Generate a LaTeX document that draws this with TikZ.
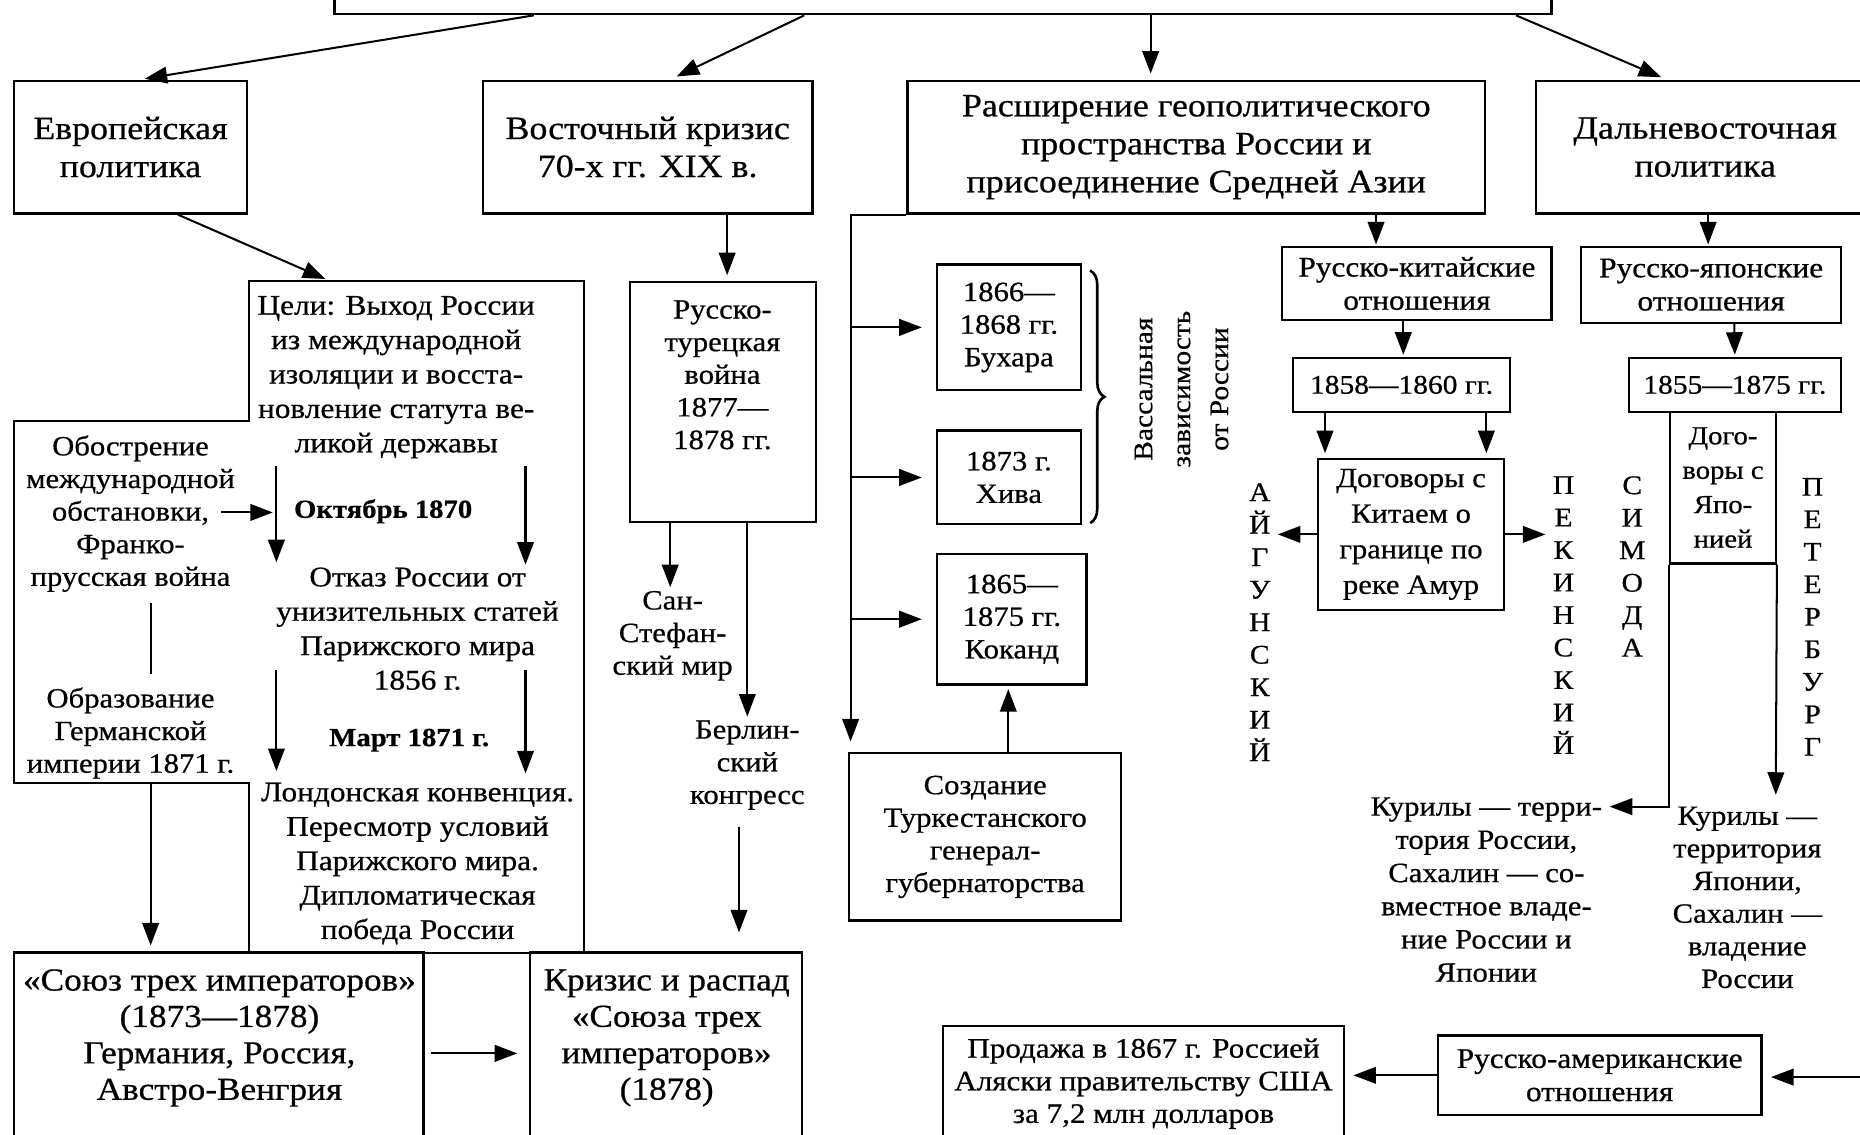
\documentclass[tikz,border=0pt]{standalone}
\usepackage{fontspec}
\setmainfont[FakeStretch=1.1,FakeBold=0.6]{Liberation Serif}
\usetikzlibrary{arrows.meta,decorations.pathreplacing}
\begin{document}
\begin{tikzpicture}[x=1pt,y=-1pt,
  box/.style={draw,line width=1.9pt,inner sep=0pt},
  arr/.style={line width=1.7pt,-{Triangle[length=19pt,width=14pt]}},
  ln/.style={line width=1.7pt},
  big/.style={font=\fontsize{27.5}{32}\selectfont,align=center,inner sep=0pt},
  med/.style={font=\fontsize{24}{29}\selectfont,align=center,inner sep=0pt},
  bmed/.style={font=\bfseries\fontsize{22}{29}\selectfont,align=center,inner sep=0pt},
  sml/.style={font=\fontsize{23.5}{27.5}\selectfont,align=center,inner sep=0pt},
  vlet/.style={font=\fontsize{22.7}{27.4}\selectfont,align=center,inner sep=0pt},
]
\useasboundingbox (0,0) rectangle (1568,956);
\fill[white] (0,0) rectangle (1568,956);

% top
\node[box,minimum width=1026pt,minimum height=60pt] (top) at (795,-18) {};

% row 1
\node[box,big,minimum width=196pt,minimum height=112pt] (eur) at (110,124) {Европейская\\политика\vphantom{Ё}};
\node[box,big,minimum width=278pt,minimum height=112pt] (vk) at (546,124) {Восточный кризис\\70-х гг. XIX в.};
\node[box,big,minimum width=487pt,minimum height=112pt] (ras) at (1008.5,124) {Расширение геополитического\\пространства России и\\присоединение Средней Азии};
\node[box,big,minimum width=285pt,minimum height=112pt] (dv) at (1437.5,124) {Дальневосточная\\политика\vphantom{Ё}};

\draw[arr,shorten >=4pt] ([xshift=-345pt]top.south) -- ([xshift=8pt]eur.north);
\draw[arr,shorten >=6pt] ([xshift=-117pt]top.south) -- ([xshift=19pt]vk.north);
\draw[arr,shorten >=5pt] ([xshift=175pt]top.south) -- ([xshift=-38.5pt]ras.north);
\draw[arr,shorten >=5pt] ([xshift=483pt]top.south) -- ([xshift=-32.5pt]dv.north);

% European policy
\node[minimum width=282pt,minimum height=566pt,inner sep=0pt] (celi) at (351,520) {};
\node[minimum width=198pt,minimum height=305pt,inner sep=0pt] (obo) at (111,507.5) {};
\draw[line width=1.9pt] (celi.north west) -- (celi.north east) -- (celi.south east) -- (celi.south west) -- (celi.south west |- obo.south) -- (obo.south west) -- (obo.north west) -- (celi.west |- obo.north) -- cycle;
\draw[arr,shorten >=4pt] ([xshift=40pt]eur.south) -- ([xshift=-73pt]celi.north);

\node[med] (celitxt) at (334,318) {Цели: Выход России\\из международной\\изоляции и восста-\\новление статута ве-\\ликой державы};
\node[bmed] (okt) at (323,431) {Октябрь 1870};
\node[med] (otk) at (352,530) {Отказ России от\\унизительных статей\\Парижского мира\\1856 г.};
\node[bmed] (mart) at (345,624) {Март 1871 г.};
\node[med] (lond) at (352,728) {Лондонская конвенция.\\Пересмотр условий\\Парижского мира.\\Дипломатическая\\победа России};

\coordinate (a1) at (233,393); \coordinate (a2) at (233,474);
\coordinate (a3) at (443,393); \coordinate (a4) at (443,476);
\coordinate (a5) at (233,565); \coordinate (a6) at (233,650);
\coordinate (a7) at (443,565); \coordinate (a8) at (443,652);
\draw[arr] (a1) -- (a2);
\draw[arr] (a3) -- (a4);
\draw[arr] (a5) -- (a6);
\draw[arr] (a7) -- (a8);

\node[font=\fontsize{23.5}{27.5}\selectfont,align=center,inner sep=0pt] (obotxt) at (110,433) {Обострение\\международной\\обстановки,\\Франко-\\прусская война};
\coordinate (o1) at (186,432); \coordinate (o2) at (230,432);
\draw[arr] (o1) -- (o2);
\coordinate (l1) at (127,508); \coordinate (l2) at (127,568);
\draw[ln] (l1) -- (l2);
\node[font=\fontsize{23.5}{27.5}\selectfont,align=center,inner sep=0pt] (obr) at (110,618) {Образование\\Германской\\империи 1871 г.};

% bottom left
\node[box,minimum width=345pt,minimum height=180pt] (soy) at (184.5,893) {};
\node[font=\fontsize{27}{30.7}\selectfont,align=center,inner sep=0pt] (soytxt) at (185,875) {«Союз трех императоров»\\(1873—1878)\\Германия, Россия,\\Австро-Венгрия};
\node[box,minimum width=229pt,minimum height=180pt] (kri) at (561.5,893) {};
\node[font=\fontsize{27}{30.7}\selectfont,align=center,inner sep=0pt] (kritxt) at (562,875) {Кризис и распад\\«Союза трех\\императоров»\\(1878)};
\draw[arr,shorten <=5pt,shorten >=10pt] ([yshift=5pt]soy.east) -- ([yshift=5pt]kri.west);
\draw[arr,shorten >=5pt] ([xshift=16pt]obo.south) -- ([xshift=-57.5pt]soy.north);

% Eastern crisis
\node[box,minimum width=157pt,minimum height=202pt] (rt) at (609.5,339) {};
\node[sml] (rttxt) at (609,316) {Русско-\\турецкая\\война\\1877—\\1878 гг.};
\draw[arr,shorten >=5pt] ([xshift=67pt]vk.south) -- ([xshift=3.5pt]rt.north);
\node[sml] (san) at (567,536) {Сан-\\Стефан-\\ский мир};
\node[sml] (ber) at (630,645) {Берлин-\\ский\\конгресс};
\draw[arr,shorten >=3pt] ([xshift=-44.5pt]rt.south) -- ([xshift=-2pt]san.north);
\draw[arr,shorten >=3pt] ([xshift=20.5pt]rt.south) -- (ber.north);
\draw[arr,shorten <=14pt,shorten >=16pt] ([xshift=-7pt]ber.south) -- ([xshift=61.5pt]kri.north);

% Central Asia
\node[box,sml,minimum width=121pt,minimum height=106pt] (buh) at (850.5,276) {1866—\\1868 гг.\\Бухара};
\node[box,sml,minimum width=121pt,minimum height=79pt] (khi) at (850.5,402.5) {1873 г.\\Хива};
\node[box,sml,minimum width=126pt,minimum height=110pt] (kok) at (853,522) {1865—\\1875 гг.\\Коканд};
\node[box,sml,minimum width=229pt,minimum height=141pt] (soz) at (830.5,705.5) {Создание\\Туркестанского\\генерал-\\губернаторства};
\coordinate (vl) at (718,0);
\draw[arr,shorten >=9pt] (ras.south west) -| ([xshift=2pt]soz.north west);
\draw[arr,shorten >=12pt] (buh.west -| vl) -- (buh.west);
\draw[arr,shorten >=12pt] (khi.west -| vl) -- (khi.west);
\draw[arr,shorten >=12pt] (kok.west -| vl) -- (kok.west);
\draw[arr,shorten >=3pt] ([xshift=19.5pt]soz.north) -- ([xshift=-3pt]kok.south);
\coordinate (br) at (919,0);
\draw[decorate,decoration={brace,amplitude=12pt},line width=2.2pt] ([yshift=-6pt]buh.north east -| br) -- ([yshift=2pt]khi.south east -| br);
\node[font=\fontsize{22.6}{32}\selectfont,align=center,inner sep=0pt,rotate=90] (vas) at (996,328) {Вассальная\\зависимость\\от России};

% China
\node[box,minimum width=227pt,minimum height=62pt,font=\fontsize{24}{28}\selectfont,align=center] (rk) at (1194.5,239) {Русско-китайские\\отношения};
\draw[arr,shorten >=1pt] ([xshift=151.5pt]ras.south) -- ([xshift=-34.5pt]rk.north);
\node[box,minimum width=183pt,minimum height=45pt,font=\fontsize{22.6}{28}\selectfont] (d1) at (1181.5,324.5) {1858—1860 гг.};
\draw[arr,shorten >=2pt] ([xshift=-11.5pt]rk.south) -- ([xshift=1.5pt]d1.north);
\node[box,minimum width=157pt,minimum height=127pt,font=\fontsize{23.4}{30}\selectfont,align=center] (dog) at (1189.5,450.5) {Договоры с\\Китаем о\\границе по\\реке Амур};
\draw[arr,shorten >=4pt] ([xshift=-64.5pt]d1.south) -- ([xshift=-72.5pt]dog.north);
\draw[arr,shorten >=4pt] ([xshift=71.5pt]d1.south) -- ([xshift=63.5pt]dog.north);
\node[vlet] (aig) at (1062,524.5) {А\\Й\\Г\\У\\Н\\С\\К\\И\\Й};
\node[vlet] (pek) at (1318,518.5) {П\\Е\\К\\И\\Н\\С\\К\\И\\Й};
\node[vlet] (sim) at (1376,477.5) {С\\И\\М\\О\\Д\\А};
\node[vlet] (pet) at (1528,520) {П\\Е\\Т\\Е\\Р\\Б\\У\\Р\\Г};
\draw[arr,shorten >=6pt] (dog.west) -- (dog.west -| aig.east);
\draw[arr,shorten >=6pt] (dog.east) -- (dog.east -| pek.west);

% Japan
\node[box,minimum width=219pt,minimum height=64pt,font=\fontsize{24}{28}\selectfont,align=center] (rj) at (1442.5,240) {Русско-японские\\отношения};
\draw[arr,shorten >=1pt] ([xshift=2.5pt]dv.south) -- ([xshift=-2.5pt]rj.north);
\node[box,minimum width=179pt,minimum height=45pt,font=\fontsize{22.6}{28}\selectfont] (d2) at (1462.5,324.5) {1855—1875 гг.};
\draw[arr,shorten >=2pt] ([xshift=19.5pt]rj.south) -- (d2.north);
\node[box,minimum width=89pt,minimum height=128pt,font=\fontsize{22}{29}\selectfont,align=center] (dj) at (1452.5,411) {Дого-\\воры с\\Япо-\\нией};
\coordinate (k1) at (1357,680); \coordinate (k2) at (1497,670);
\draw[arr] (dj.south west) |- (k1);
\draw[arr] (dj.south east) -- (k2);
\node[font=\fontsize{23.5}{28}\selectfont,align=center,inner sep=0pt] (kur1) at (1253,750) {Курилы — терри-\\тория России,\\Сахалин — со-\\вместное владе-\\ние России и\\Японии};
\node[sml] (kur2) at (1473,756.5) {Курилы —\\территория\\Японии,\\Сахалин —\\владение\\России};

% America
\node[box,minimum width=338pt,minimum height=120pt] (al) at (964,925) {};
\node[font=\fontsize{23.8}{27.5}\selectfont,align=center,inner sep=0pt] (altxt) at (964,913.5) {Продажа в 1867 г. Россией\\Аляски правительству США\\за 7,2 млн долларов};
\node[box,minimum width=273pt,minimum height=67pt,font=\fontsize{24}{28}\selectfont,align=center] (ra) at (1348.5,906.5) {Русско-американские\\отношения};
\draw[arr,shorten >=7pt] (ra.west) -- (ra.west -| al.east);
\coordinate (re) at (1580,908);
\draw[arr,shorten >=7pt] (re) -- (ra.east |- re);
\end{tikzpicture}
\end{document}
